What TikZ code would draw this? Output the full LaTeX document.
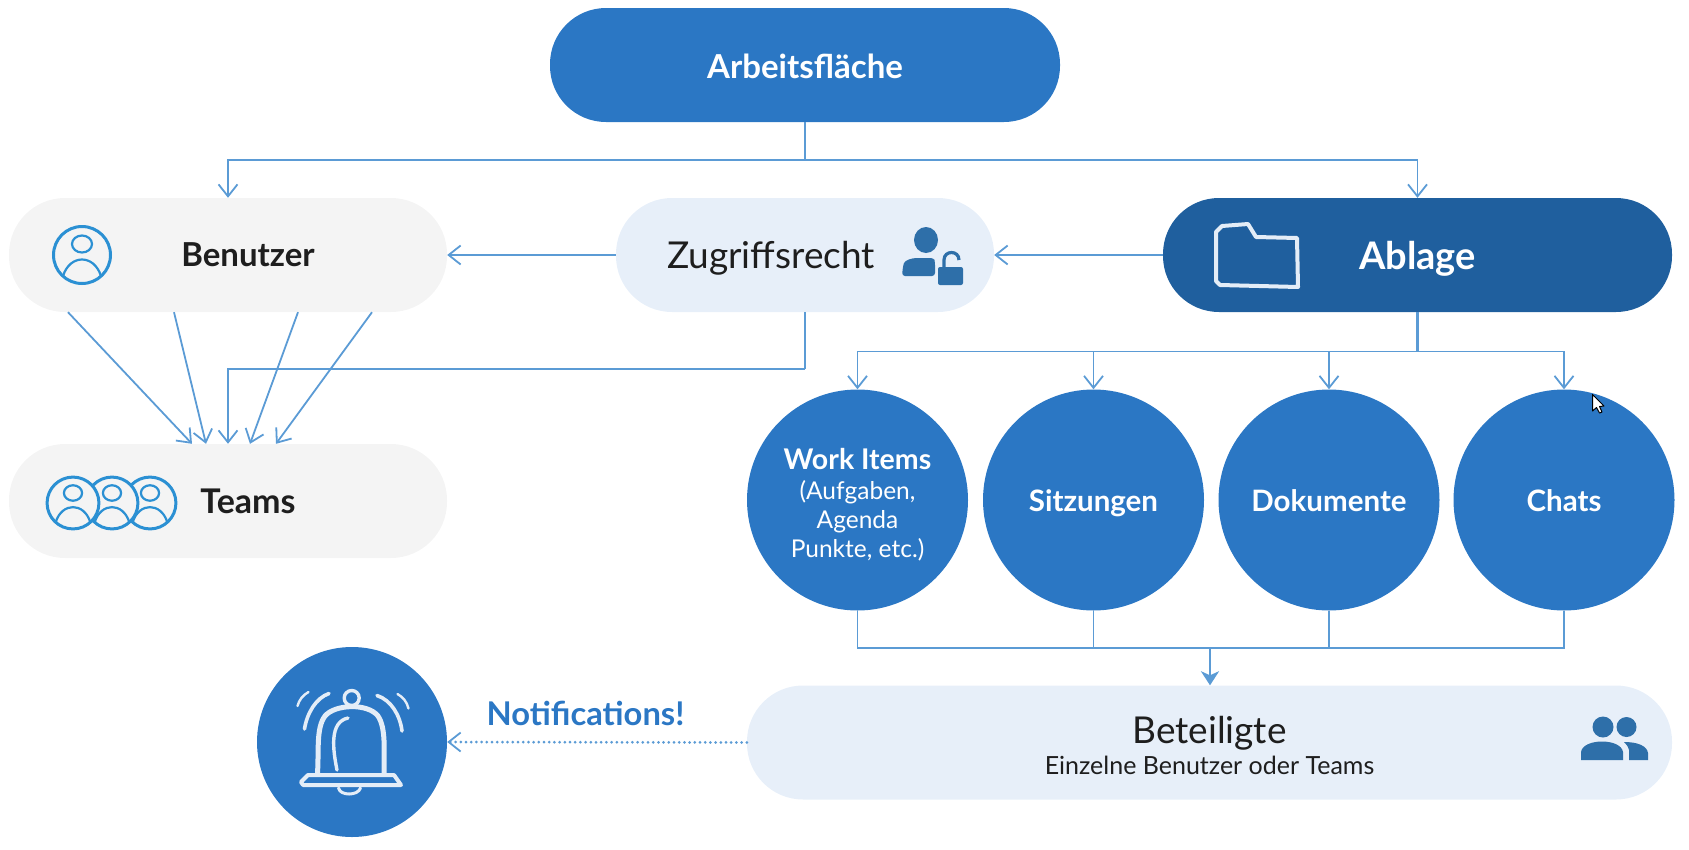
\documentclass[tikz,border=0pt]{standalone}
\usepackage{fontspec}
\setmainfont{Lato}
\usepackage{xcolor}
\usepackage{tikz}
\usetikzlibrary{arrows.meta, calc}
\definecolor{myblue}{RGB}{43,119,196}
\definecolor{mydeep}{RGB}{31,95,158}
\definecolor{mypale}{RGB}{231,239,249}
\definecolor{mygrey}{RGB}{244,244,244}
\definecolor{myline}{RGB}{91,155,213}
\definecolor{mydark}{RGB}{30,30,30}
\definecolor{myicon}{RGB}{46,111,169}
\definecolor{mysketch}{RGB}{43,144,211}
\definecolor{mychalk}{RGB}{228,237,247}
\tikzset{
  pill/.style={rectangle, rounded corners=56pt, inner sep=0pt, minimum height=114pt, align=center},
  disc/.style={circle, fill=myblue, inner sep=0pt, minimum size=221pt},
  big/.style={font=\fontsize{33}{40}\selectfont\bfseries},
  disctext/.style={text=white, anchor=base, font=\fontsize{29.5}{35}\selectfont\bfseries},
  link/.style={draw=myline, line width=1.8pt, -{Straight Barb[length=12pt, width=19pt, line width=1.8pt]}},
  plain/.style={draw=myline, line width=1.8pt},
  chalk/.style={draw=mychalk, line width=4pt, line cap=round, line join=round},
  pics/persona/.style={code={
    \draw[draw=mysketch, fill=mygrey, line width=3pt] (0,0) circle (28.5);
    \draw[draw=mysketch, line width=2.2pt] (0,-11) ellipse (10 and 8.5);
    \draw[draw=mysketch, line width=2.2pt] (-19,21) .. controls (-12,-1) and (12,-1) .. (19,21);
  }}
}
\begin{document}
\begin{tikzpicture}[x=1pt, y=-1pt]
  \useasboundingbox (0,0) rectangle (1689,849);

  % Top row
  \node[pill, fill=myblue, minimum width=510pt] (flaeche) at (805,65) {};
  \node[pill, fill=mygrey, minimum width=438pt] (benutzer) at (228,255) {};
  \node[pill, fill=mypale, minimum width=378pt] (zugriff) at (805,255) {};
  \node[pill, fill=mydeep, minimum width=509pt] (ablage) at (1417.5,255) {};
  \node[text=white, big] (flaechetext) at (805,66) {Arbeitsfläche};
  \node[text=mydark, big] (benutzertext) at (248,255) {Benutzer};
  \node[text=mydark, font=\fontsize{37}{44}\selectfont] (zugrifftext) at (771,258) {Zugriffsrecht};
  \node[text=white, font=\fontsize{38}{45}\selectfont\bfseries] (ablagetext) at (1417.5,259) {Ablage};

  % Teams
  \node[pill, fill=mygrey, minimum width=438pt] (teams) at (228,501) {};
  \node[text=mydark, font=\fontsize{34}{40}\selectfont\bfseries] (teamstext) at (248,501) {Teams};

  % Circles
  \node[disc] (items) at (857.5,500) {};
  \node[disc] (sitzungen) at (1093.5,500) {};
  \node[disc] (dokumente) at (1329,500) {};
  \node[disc] (chats) at (1564,500) {};
  \node[text=white, align=center, font=\fontsize{24.5}{29}\selectfont] (itemstext) at (857.5,505) {{\fontsize{28.5}{34}\selectfont\bfseries Work Items}\\[1pt]
    (Aufgaben,\\ Agenda\\ Punkte, etc.)};
  \node[disctext] (sitzungentext) at (1093.5,511) {Sitzungen};
  \node[disctext] (dokumentetext) at (1329,511) {Dokumente};
  \node[disctext] (chatstext) at (1564,511) {Chats};

  % Bottom row
  \node[pill, fill=mypale, minimum width=925pt] (beteiligte) at (1209.5,742.5) {};
  \node[text=mydark, align=center, font=\fontsize{25}{31}\selectfont] (beteiligtetext) at (1209.5,745) {{\fontsize{37}{44}\selectfont Beteiligte}\\[0pt]
    Einzelne Benutzer oder Teams};
  \node[circle, fill=myblue, inner sep=0pt, minimum size=190pt] (glocke) at (352,742) {};
  \node[text=myblue, font=\fontsize{32.7}{39}\selectfont\bfseries] (hinweis) at (585.5,713) {Notifications!};

  % Connectors
  \coordinate (topbus) at (805,160);
  \coordinate (zbus) at (805,369);
  \coordinate (abus) at (1417.5,351.5);
  \coordinate (cbus) at (1210,648);
  \draw[plain] (flaeche.south) -- (topbus);
  \draw[link] (topbus) -| (benutzer.north);
  \draw[link] (topbus) -| (ablage.north);
  \draw[link] (ablage.west) -- (zugriff.east);
  \draw[link] (zugriff.west) -- (benutzer.east);
  \draw[link] ([xshift=-160pt]benutzer.south) -- ([xshift=-36pt]teams.north);
  \draw[link] ([xshift=-54pt]benutzer.south) -- ([xshift=-22pt]teams.north);
  \draw[link] ([xshift=70pt]benutzer.south) -- ([xshift=22pt]teams.north);
  \draw[link] ([xshift=144pt]benutzer.south) -- ([xshift=48pt]teams.north);
  \draw[plain] (zugriff.south) -- (zbus);
  \draw[link] (zbus) -| (teams.north);
  \draw[plain, line width=2.6pt] (ablage.south) -- (abus);
  \draw[link] (abus) -| (items.north);
  \draw[link] (abus) -| (sitzungen.north);
  \draw[link] (abus) -| (dokumente.north);
  \draw[link] (abus) -| (chats.north);
  \draw[plain] (items.south) |- (cbus);
  \draw[plain] (sitzungen.south) |- (cbus);
  \draw[plain] (dokumente.south) |- (cbus);
  \draw[plain] (chats.south) |- (cbus);
  \draw[draw=myline, line width=2.8pt, -{Stealth[length=14pt, width=18pt, inset=4pt]}] (cbus) -- (beteiligte.north -| cbus);
  \draw[draw=myline, line width=3pt, line cap=round, dash pattern=on 0pt off 5.2pt, -{Straight Barb[length=12pt, width=19pt, line width=1.8pt]}] (beteiligte.west) -- (glocke.east);

  % Person icons
  \pic at (82,255) {persona};
  \foreach \px in {150,112,73}
    \pic[scale=0.91] at (\px,503) {persona};

  % Lock icon
  \fill[myicon] (926,240) ellipse (12 and 13);
  \fill[myicon, rounded corners=3pt] (902,276) -- (903,266) .. controls (905,260) and (912,258) .. (920,258) -- (934,258) -- (935,262) -- (935,276) -- cycle;
  \fill[myicon, rounded corners=2pt] (938,267) rectangle (963,285);
  \draw[myicon, line width=3.2pt] (944,267) -- (944,260) .. controls (944,250) and (959,250) .. (959,260);

  % Folder
  \draw[chalk] (1216,232) -- (1222,226) -- (1248,224) -- (1256,237) -- (1297,238) -- (1298,287) -- (1220,285) -- (1216,281) -- cycle;

  % Bell
  \draw[chalk, line width=3.4pt] (351.7,698) circle (7.5);
  \draw[chalk, line width=5pt] (317.5,773) .. controls (319,750) and (316,728) .. (325,716) .. controls (335,704) and (368,703) .. (378,716) .. controls (386,728) and (384,750) .. (384,773);
  \draw[chalk, line width=3.4pt] (337,770) .. controls (333,750) and (329,722) .. (348,718);
  \draw[chalk] (308,775) -- (394,775) -- (401,785) -- (303,785) -- (301,782) -- cycle;
  \draw[chalk, line width=3pt] (338.5,788) .. controls (340,796) and (358,796) .. (360.5,788);
  \draw[chalk, line width=3.6pt] (304.5,729) .. controls (307,713) and (316,698) .. (329,693.5);
  \draw[chalk, line width=2.4pt] (297.5,706) .. controls (299,700) and (303,695) .. (308.5,692);
  \draw[chalk, line width=3.6pt] (402,731) .. controls (400,715) and (391,700) .. (377,695.5);
  \draw[chalk, line width=2.4pt] (408.5,708.5) .. controls (407,702) and (403,697) .. (397.5,694);

  % Group icon
  \fill[myicon] (1603,727) circle (10.5);
  \fill[myicon] (1626.5,727) circle (10);
  \fill[myicon] (1581,760) -- (1581,752) .. controls (1583,738) and (1621,738) .. (1623,752) -- (1623,760) -- cycle;
  \fill[myicon] (1629,760) -- (1629,750) .. controls (1628,746) and (1626,744) .. (1624,742) .. controls (1638,742) and (1647,746) .. (1648,753) -- (1648,760) -- cycle;

  % Cursor
  \draw[black, fill=white, line width=1pt, line join=round] (1592.5,394.5) -- (1592.5,411) -- (1596.5,407.5) -- (1599.5,413) -- (1602,412) -- (1599.5,406.5) -- (1604,406) -- cycle;
\end{tikzpicture}
\end{document}
